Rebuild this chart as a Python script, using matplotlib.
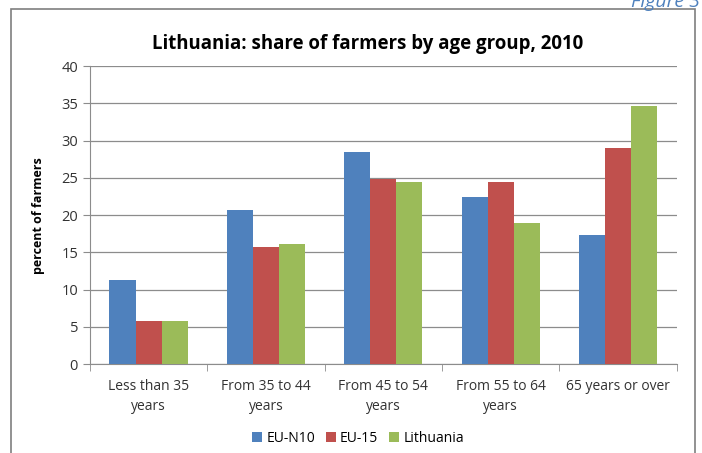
import matplotlib.pyplot as plt
import numpy as np
from matplotlib.patches import Rectangle

# data
groups = ["Less than 35\nyears", "From 35 to 44\nyears", "From 45 to 54\nyears",
          "From 55 to 64\nyears", "65 years or over"]
series_names = ["EU-N10", "EU-15", "Lithuania"]
eu_n10 = [11.3, 20.7, 28.5, 22.4, 17.3]
eu_15 = [5.8, 15.7, 24.9, 24.5, 29.0]
lithuania = [5.8, 16.1, 24.4, 18.9, 34.7]
colors = ["#4F81BD", "#C0504D", "#9BBB59"]

plt.rcParams['font.family'] = ['Open Sans', 'DejaVu Sans']

fig = plt.figure(figsize=(7.02, 4.53), dpi=100)
ax = fig.add_axes([0.128, 0.196, 0.836, 0.658])

x = np.arange(len(groups))
w = 1 / 4.5
for i, vals in enumerate([eu_n10, eu_15, lithuania]):
    ax.bar(x + (i - 1) * w, vals, w, color=colors[i], label=series_names[i], zorder=3)

ax.set_xlim(-0.5, len(groups) - 0.5)
ax.set_ylim(0, 40)
ax.set_yticks(range(0, 41, 5))
ax.grid(axis='y', color='#8c8c8c', linewidth=0.9, zorder=0)
ax.set_xticks(x)
ax.set_xticklabels(groups, fontsize=10, color='#333333', linespacing=1.45)
ax.tick_params(axis='x', length=0, pad=11)
ax.set_xticks(np.arange(-0.5, len(groups)), minor=True)
ax.tick_params(axis='x', which='minor', length=5, color='#8c8c8c')
ax.tick_params(axis='y', length=5, color='#8c8c8c', labelsize=10.5, labelcolor='#333333')
for s in ['top', 'right']:
    ax.spines[s].set_visible(False)
ax.spines['left'].set_color('#8c8c8c')
ax.spines['bottom'].set_color('#8c8c8c')

ax.set_ylabel("percent of farmers", fontsize=9, fontweight='bold', labelpad=12)
fig.text(0.523, 0.902, "Lithuania: share of farmers by age group, 2010",
         ha='center', va='center', fontsize=13.4, fontweight='bold')

leg = fig.legend(loc='center', bbox_to_anchor=(0.51, 0.033), ncol=3, frameon=False,
                 fontsize=10, handlelength=0.7, handleheight=0.7, columnspacing=0.8,
                 handletextpad=0.3)

# chart border box and caption above it
fig.patches.append(Rectangle((11 / 702, -0.05), (695 - 11) / 702, 1.05 - 9 / 453,
                             transform=fig.transFigure, fill=False,
                             edgecolor='#7f7f7f', linewidth=1.2))
fig.text(0.997, 0.995, "Figure 3", ha='right', va='center', fontsize=14,
         style='italic', color='#4F81BD')

fig.savefig("out.png", dpi=100)
